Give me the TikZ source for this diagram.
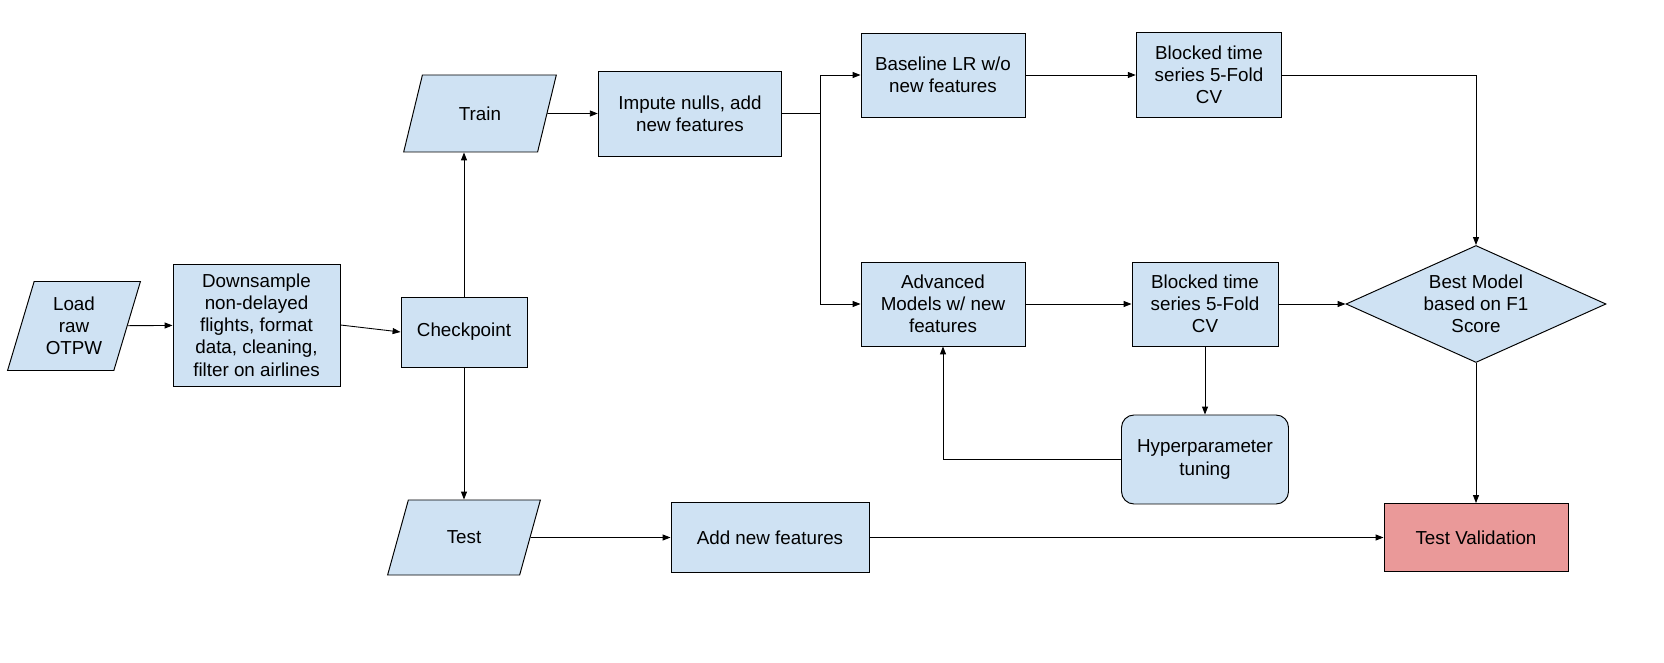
\documentclass[tikz,border=0pt]{standalone}
\usepackage{fontspec}
\setmainfont{Liberation Sans}
\usetikzlibrary{arrows.meta, shapes.geometric}

\definecolor{boxblue}{HTML}{CFE2F3}
\definecolor{boxred}{HTML}{EA9999}

\begin{document}
\begin{tikzpicture}[
    font=\fontsize{10.7}{12.6}\selectfont,
    every node/.style={align=center, inner sep=2pt},
    proc/.style={draw, line width=0.55pt, fill=boxblue, rectangle},
    data/.style={draw, line width=0.55pt, fill=boxblue, trapezium,
      trapezium stretches=true, trapezium left angle=69, trapezium right angle=111},
    flow/.style={line width=0.5pt, -{Triangle[length=4.5pt,width=3.4pt]}},
    link/.style={line width=0.5pt}
  ]
  \useasboundingbox (0,0) rectangle (33.28,-13.26);
  % input and preparation
  \node[data, trapezium left angle=72, trapezium right angle=108,
    minimum width=2.66cm, minimum height=1.78cm] (load) at (1.48,-6.52) {Load\\raw\\OTPW};
  \node[proc, minimum width=3.34cm, minimum height=2.44cm] (down) at (5.13,-6.50)
    {Downsample\\non-delayed\\flights, format\\data, cleaning,\\filter on airlines};
  \node[proc, minimum width=2.52cm, minimum height=1.40cm] (check) at (9.28,-6.64) {Checkpoint};
  % split
  \node[data, minimum width=3.06cm, minimum height=1.54cm] (train) at (9.60,-2.27) {Train};
  \node[data, minimum width=3.06cm, minimum height=1.50cm] (test) at (9.28,-10.75) {Test};
  % training branch
  \node[proc, minimum width=3.67cm, minimum height=1.70cm] (impute) at (13.80,-2.27) {Impute nulls, add\\new features};
  \coordinate (split) at (16.40,-2.27);
  \node[proc, minimum width=3.28cm, minimum height=1.68cm] (base) at (18.86,-1.50) {Baseline LR w/o\\new features};
  \node[proc, minimum width=2.91cm, minimum height=1.70cm] (cvone) at (24.18,-1.50) {Blocked time\\series 5-Fold\\CV};
  \node[proc, minimum width=3.28cm, minimum height=1.68cm] (adv) at (18.86,-6.08) {Advanced\\Models w/ new\\features};
  \node[proc, minimum width=2.92cm, minimum height=1.68cm] (cvtwo) at (24.10,-6.08) {Blocked time\\series 5-Fold\\CV};
  \node[proc, rounded corners=0.25cm, minimum width=3.34cm, minimum height=1.78cm] (hyper) at (24.10,-9.19) {Hyperparameter\\tuning};
  \node[draw, line width=0.55pt, fill=boxblue, diamond, aspect=2.2, inner sep=0pt,
    minimum width=5.20cm, minimum height=2.34cm] (best) at (29.52,-6.08) {Best Model\\based on F1\\Score};
  % test branch
  \node[proc, minimum width=3.96cm, minimum height=1.40cm] (addfeat) at (15.40,-10.75) {Add new features};
  \node[proc, fill=boxred, minimum width=3.68cm, minimum height=1.36cm] (valid) at (29.52,-10.75) {Test Validation};
  % connectors
  \draw[flow] (load) -- (down);
  \draw[flow] (down.east) -- (check.west);
  \draw[flow] (check) -- (check |- train.south);
  \draw[flow] (check) -- (check |- test.north);
  \draw[flow] (train) -- (impute);
  \draw[link] (impute) -- (split);
  \draw[flow] (split) |- (base);
  \draw[flow] (split) |- (adv);
  \draw[flow] (base) -- (cvone);
  \draw[flow] (adv) -- (cvtwo);
  \draw[flow] (cvone) -| (best.north);
  \draw[flow] (cvtwo) -- (best.west);
  \draw[flow] (cvtwo) -- (hyper);
  \draw[flow] (hyper.west) -| (adv.south);
  \draw[flow] (best.south) -- (valid.north);
  \draw[flow] (test) -- (addfeat);
  \draw[flow] (addfeat) -- (valid);
\end{tikzpicture}
\end{document}
